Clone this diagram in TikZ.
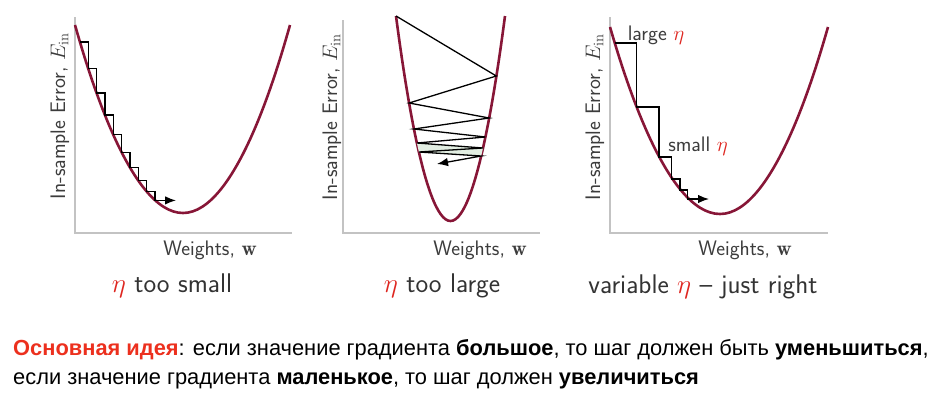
\documentclass[tikz,border=0pt]{standalone}
\usepackage{fix-cm}
\usepackage{amsmath}
\usepackage{fontspec}
\usetikzlibrary{arrows.meta}
\newfontfamily\rufont{Liberation Sans}
\definecolor{bowlred}{RGB}{135,22,55}
\definecolor{etared}{RGB}{222,38,32}
\definecolor{ideared}{RGB}{236,48,30}
\definecolor{axisgray}{RGB}{195,195,195}
\definecolor{labgray}{RGB}{60,60,60}
\definecolor{bandgreen}{RGB}{226,238,226}
\tikzset{
  >={Latex[length=11pt,width=8.5pt]},
  bowl/.style={draw=bowlred,line width=2.6pt},
  walk/.style={draw=black,line width=1.3pt,line join=miter},
  axisline/.style={draw=axisgray,line width=1.1pt},
  axlab/.style={font=\sffamily\fontsize{21}{24}\selectfont,text=labgray,inner sep=0pt},
  paneltext/.style={font=\sffamily\fontsize{27}{30}\selectfont,text=black!80,inner sep=0pt},
  idea/.style={font=\rufont\fontsize{21.85}{24}\selectfont,anchor=base west,inner sep=0pt}
}
\newcommand{\redeta}{\textcolor{etared}{$\eta$}}

\begin{document}
\begin{tikzpicture}[x=1pt,y=-1pt]
  \useasboundingbox (0,0) rectangle (934,407);

  % ---- eta too small ----
  \begin{scope}
    \draw[axisline] (75,17) -- (75,233) -- (292,233);
    \draw[bowl] (75,25) parabola bend (183,213) (290,25);
    \draw[walk,->] (80,42) -- (88.3,42) -- (88.3,68.4) -- (96.7,68.4)
      -- (96.7,92.9) -- (105,92.9) -- (105,114.9) -- (113.3,114.9)
      -- (113.3,134.7) -- (121.7,134.7) -- (121.7,152.4) -- (130,152.4)
      -- (130,167.7) -- (138.3,167.7) -- (138.3,180.8) -- (146.7,180.8)
      -- (146.7,191.8) -- (155,191.8) -- (155,200.4) -- (176,200.4);
    \node[axlab,rotate=90] (ys) at (60,116) {In-sample Error, $E_{\mathrm{in}}$};
    \node[axlab] (xs) at (210,250) {Weights, $\mathbf{w}$};
    \node[paneltext] (cs) at (172,286) {\redeta{} too small};
  \end{scope}

  % ---- eta too large ----
  \begin{scope}
    \draw[axisline] (343,20) -- (343,233) -- (540,233);
    \draw[bowl] (396,16) parabola bend (450.5,221) (505,16);
    \fill[bandgreen] (416.9,143) -- (483,148) -- (481.2,156) -- (418.9,152) -- cycle;
    \draw[walk,->] (396,16) -- (496.3,76) -- (409.1,103) -- (489.1,118)
      -- (414,129) -- (485.4,137) -- (416.9,143) -- (483,148)
      -- (418.9,152) -- (481.2,156) -- (437,164);
    \node[axlab,rotate=90] (yl) at (332,117) {In-sample Error, $E_{\mathrm{in}}$};
    \node[axlab] (xl) at (480,250) {Weights, $\mathbf{w}$};
    \node[paneltext] (cl) at (442,286) {\redeta{} too large};
  \end{scope}

  % ---- variable eta ----
  \begin{scope}
    \draw[axisline] (610,17) -- (610,233) -- (828,233);
    \draw[bowl] (610,27) parabola bend (720,214) (828,27);
    \draw[walk,->] (615,43) -- (636.7,43) -- (636.7,107) -- (659,107)
      -- (659,157) -- (671.7,157) -- (671.7,179) -- (680,179)
      -- (680,190) -- (687.3,190) -- (687.3,199) -- (709,199);
    \node[axlab] (big) at (656,35) {large \redeta};
    \node[axlab] (small) at (698,146) {small \redeta};
    \node[axlab,rotate=90] (yv) at (595,117) {In-sample Error, $E_{\mathrm{in}}$};
    \node[axlab] (xv) at (745,250) {Weights, $\mathbf{w}$};
    \node[paneltext] (cv) at (703,287) {variable \redeta{} -- just right};
  \end{scope}

  % ---- main idea ----
  \node[idea] (line1) at (13,355) {\textcolor{ideared}{\bfseries Основная идея}: если значение градиента \textbf{большое}, то шаг должен быть \textbf{уменьшиться},};
  \node[idea] (line2) at (13,384) {если значение градиента \textbf{маленькое}, то шаг должен \textbf{увеличиться}};
\end{tikzpicture}
\end{document}
